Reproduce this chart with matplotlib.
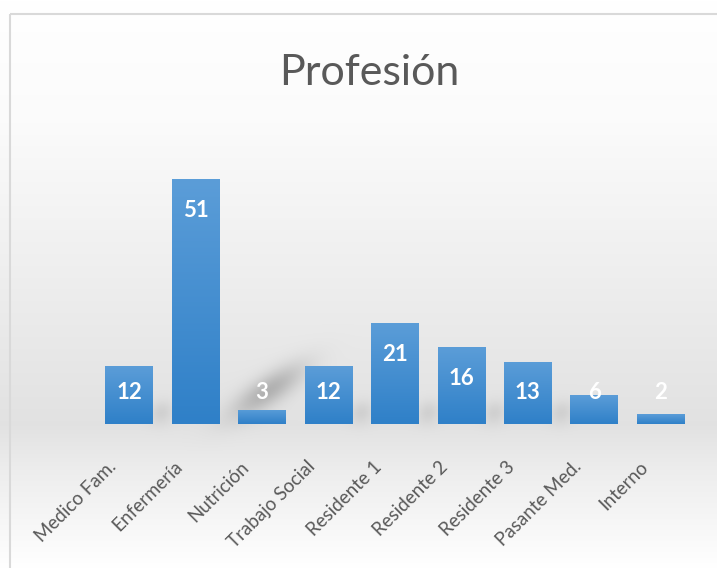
import numpy as np
import matplotlib.pyplot as plt
from matplotlib.colors import LinearSegmentedColormap
from matplotlib.patches import Rectangle
from matplotlib.transforms import ScaledTranslation

categories = ["Medico Fam.", "Enfermería", "Nutrición", "Trabajo Social", "Residente 1",
              "Residente 2", "Residente 3", "Pasante Med.", "Interno"]
values = [12, 51, 3, 12, 21, 16, 13, 6, 2]

plt.rcParams['font.family'] = ['Lato', 'DejaVu Sans']

W, H = 717, 568
fig = plt.figure(figsize=(W / 100, H / 100), dpi=100)

# background: white -> light gray near the axis -> white, plus soft shadows
bg = fig.add_axes([0, 0, 1, 1], zorder=-10)
yy, xx = np.mgrid[0:H, 0:W].astype(float)
shade = np.interp(yy, [0, 120, 424, 470, 568], [1.0, 0.985, 0.885, 0.93, 1.0])


def blob(cx, cy, sa, sb, ang, depth):
    c, s = np.cos(ang), np.sin(ang)
    u = (xx - cx) * c + (yy - cy) * s
    v = -(xx - cx) * s + (yy - cy) * c
    return depth * np.exp(-0.5 * ((u / sa) ** 2 + (v / sb) ** 2))


shade = shade - blob(268, 390, 30, 10, np.arctan2(-44, 65), 0.2)
for bx in [161, 361, 428, 494, 561]:
    shade = shade - blob(bx, 412, 9, 8, np.arctan2(-1, 1), 0.07)
shade = np.clip(shade, 0, 1)
bg.imshow(np.dstack([shade, shade, shade]), extent=(0, W, H, 0), aspect='auto')
bg.add_patch(Rectangle((10, 13.5), W, H, fill=False, edgecolor='#d9d9d9', linewidth=1.5))
bg.set_xlim(0, W)
bg.set_ylim(H, 0)
bg.axis('off')

ax = fig.add_axes([96 / W, (H - 424) / H, (694 - 96) / W, 288 / H])
ax.patch.set_alpha(0)
x = np.arange(len(categories))
bars = ax.bar(x, values, width=0.72, color='#4a90d4', zorder=2)

grad = LinearSegmentedColormap.from_list('bar', ['#2f80c8', '#5b9dd8'])
g = np.linspace(0, 1, 100)[:, None]
for b in bars:
    x0, w, h = b.get_x(), b.get_width(), b.get_height()
    im = ax.imshow(g, cmap=grad, extent=(x0, x0 + w, 0, h), origin='lower',
                   aspect='auto', zorder=3)
    im.set_clip_path(b)

for xi, v in zip(x, values):
    ax.text(xi, max(v - 6.5, 6.5), str(v), ha='center', va='center', color='white',
            fontsize=16, fontweight='bold', zorder=5)

ax.set_xlim(-0.5, len(categories) - 0.5)
ax.set_ylim(0, 60)
ax.set_xticks(x)
ax.set_xticklabels(categories, rotation=45, ha='right', va='top', rotation_mode='anchor',
                   fontsize=13.5, color='#595959')
ax.tick_params(axis='x', length=0, pad=0)
off = ScaledTranslation(-22 / 100, -34 / 100, fig.dpi_scale_trans)
for lbl in ax.get_xticklabels():
    lbl.set_transform(lbl.get_transform() + off)
ax.set_yticks([])
for s in ax.spines.values():
    s.set_visible(False)

fig.text(369 / W, 1 - 73 / H, "Profesión", ha='center', va='center', fontsize=31,
         color='#595959')

fig.savefig('out.png', dpi=100)
